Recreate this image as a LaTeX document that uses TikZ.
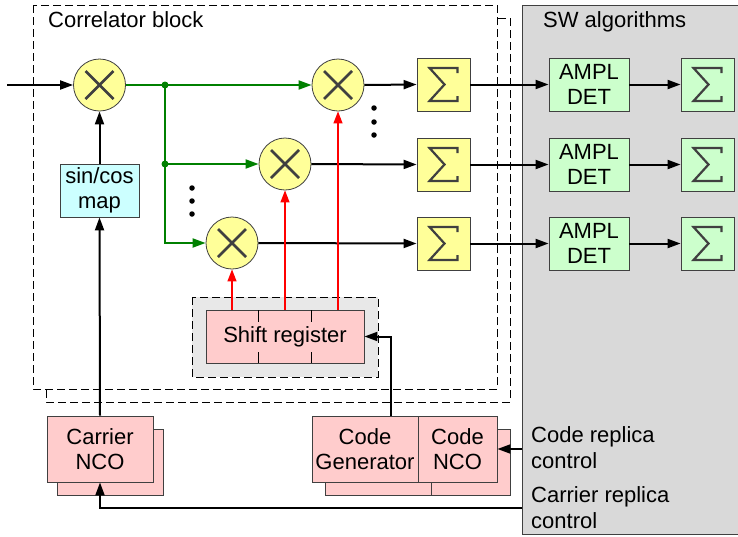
\documentclass[tikz,border=0pt]{standalone}
\usepackage{fontspec}
\setmainfont{Liberation Sans}
\usetikzlibrary{arrows.meta}

\definecolor{yelfill}{HTML}{FFFF99}
\definecolor{grnfill}{HTML}{CCFFCC}
\definecolor{pinkfill}{HTML}{FFCCCC}
\definecolor{cyanfill}{HTML}{CCFFFF}
\definecolor{swgray}{HTML}{D9D9D9}
\definecolor{regbg}{HTML}{E8E8E8}
\definecolor{wire}{HTML}{008000}
\definecolor{edge}{HTML}{404040}

\begin{document}
\begin{tikzpicture}[x=1pt,y=-1pt,
  font=\fontsize{22}{25.5}\selectfont,
  box/.style={rectangle, draw=edge, line width=0.8pt, inner sep=1pt, align=center},
  mixer/.style={circle, draw=edge, line width=0.8pt, fill=yelfill, minimum size=52pt, inner sep=0pt,
    path picture={
      \coordinate (pc) at (path picture bounding box.center);
      \draw[line width=2.6pt] ([shift={(-14,-14)}]pc) -- ([shift={(14,14)}]pc)
                              ([shift={(-14,14)}]pc) -- ([shift={(14,-14)}]pc);}},
  sumshape/.style={box, minimum width=53pt, minimum height=53pt,
    path picture={
      \coordinate (pc) at (path picture bounding box.center);
      \draw[line width=2.2pt, line join=miter]
        ([shift={(14,-11.5)}]pc) -- ([shift={(14,-16.5)}]pc) -- ([shift={(-14,-16.5)}]pc)
        -- ([shift={(1,0)}]pc) -- ([shift={(-14,16.5)}]pc) -- ([shift={(14,16.5)}]pc)
        -- ([shift={(14,11.5)}]pc);}},
  sumy/.style={sumshape, fill=yelfill},
  sumg/.style={sumshape, fill=grnfill},
  ampl/.style={box, fill=grnfill, minimum width=80pt, minimum height=53pt},
  pinkbox/.style={box, fill=pinkfill, minimum height=66pt},
  shadow/.style={draw=edge, line width=0.8pt, fill=pinkfill},
  blk/.style={line width=2pt, -{Triangle[length=13pt,width=9pt]}},
  grn/.style={line width=2pt, draw=wire, -{Triangle[length=13pt,width=9pt]}},
  rd/.style={line width=1.2pt, draw=red, -{Triangle[length=12pt,width=9pt]}},
  dashbox/.style={dashed, dash pattern=on 8pt off 4pt, line width=0.85pt},
  dot/.style={circle, inner sep=0pt, minimum size=7pt, fill=wire},
  bdot/.style={circle, inner sep=0pt, minimum size=5.5pt, fill=black},
  label/.style={anchor=base west, inner sep=0pt}
]
\useasboundingbox (0,0) rectangle (738,536);

% software side
\fill[swgray, draw=edge, line width=0.8pt] (522.5,5) rectangle (740,534.5);
\node[label] (swlab) at (543,27) {SW algorithms};

% correlator block (two stacked outlines)
\draw[dashbox, fill=white] (46,18) rectangle (510,402);
\draw[dashbox, fill=white] (33,5) rectangle (497,389);
\node[label] (corlab) at (48,27) {Correlator block};

% mixers
\node[mixer] (m0) at (99.5,85) {};
\node[mixer] (m1) at (338,85) {};
\node[mixer] (m2) at (285,164) {};
\node[mixer] (m3) at (232,243) {};

% accumulators and detectors
\foreach \i/\y in {1/84.5, 2/164.5, 3/243.5} {
  \node[sumy] (s\i) at (443.5,\y) {};
  \node[ampl] (a\i) at (589,\y) {AMPL\\DET};
  \node[sumg] (g\i) at (707.5,\y) {};
}

% carrier mapping
\node[box, fill=cyanfill, minimum width=79pt, minimum height=53pt] (sc) at (99.5,190.5) {sin/cos\\map};

% shift register
\draw[dashbox, fill=regbg] (192,297) rectangle (378,377);
\node[box, fill=pinkfill, minimum width=158pt, minimum height=53pt] (sr) at (285,336.5) {Shift register};
\foreach \x in {258.3,311} {
  \draw[line width=0.8pt] (\x,310) -- (\x,322) (\x,352) -- (\x,363);
}

% carrier NCO with its shadow
\draw[shadow] (57,429) rectangle (163,495);
\node[pinkbox, minimum width=106pt] (cnco) at (100,449) {Carrier\\NCO};

% code generator and code NCO with shadow
\draw[shadow] (325,429) rectangle (431,495);
\draw[shadow] (431,429) rectangle (510,495);
\node[pinkbox, minimum width=106pt] (cgen) at (365,449) {Code\\Generator};
\node[pinkbox, minimum width=79pt] (kco) at (457.5,449) {Code\\NCO};

% feedback labels
\node[label] (crc1) at (531,442) {Code replica};
\node[label] (crc2) at (531,468) {control};
\node[label] (cac1) at (531,502) {Carrier replica};
\node[label] (cac2) at (531,528) {control};

% signal input
\coordinate (sigin) at (7,85);
\draw[blk] (sigin) -- (m0.west);

% carrier path
\draw[blk] (cnco.north) -- (sc.south);
\draw[blk] (sc.north) -- (m0.south);

% distribution to the correlator arms
\coordinate (j1) at (165,85);
\coordinate (j2) at (165,164);
\draw[grn] (m0.east) -- (m1.west);
\draw[grn] (j2) -- (m2.west);
\draw[grn] (j1) |- (m3.west);
\node[dot] (d1) at (j1) {};
\node[dot] (d2) at (j2) {};

% ellipsis dots
\foreach \y [count=\k] in {188,201,214} { \node[bdot] (ea\k) at (192,\y) {}; }
\foreach \y [count=\k] in {108,122,135} { \node[bdot] (eb\k) at (374,\y) {}; }

% arm outputs
\draw[blk] (m1.east) -- (s1.west);
\draw[blk] (m2.east) -- (s2.west);
\draw[blk] (m3.east) -- (s3.west);
\foreach \i in {1,2,3} {
  \draw[blk] (s\i.east) -- (a\i.west);
  \draw[blk] (a\i.east) -- (g\i.west);
}

% code replicas
\draw[rd] (m3 |- sr.north) -- (m3.south);
\draw[rd] (m2 |- sr.north) -- (m2.south);
\draw[rd] (m1 |- sr.north) -- (m1.south);

% code generator feeding the register
\draw[blk] ([xshift=26pt]cgen.north) |- (sr.east);

% control loops from software
\coordinate (codectl) at (522,449);
\coordinate (carctl) at (522,508);
\draw[blk] (codectl) -- (kco.east);
\draw[blk] (carctl) -| (cnco.south);
\end{tikzpicture}
\end{document}
